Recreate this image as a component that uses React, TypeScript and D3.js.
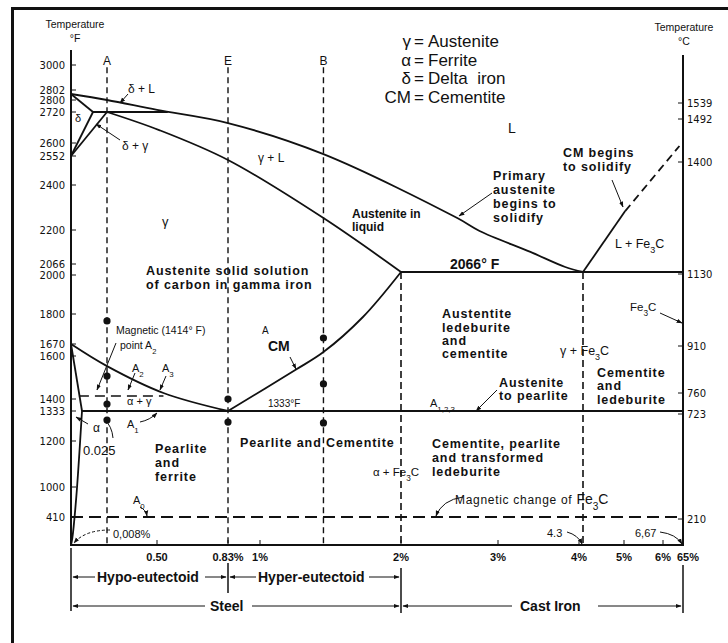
import React from "react";
import * as d3 from "d3";

type Pt = [number, number]; // [% carbon, temperature °F]

// ---- axis ticks ----
const fTicks = [3000, 2802, 2800, 2720, 2600, 2552, 2400, 2200, 2066, 2000, 1800, 1670, 1600, 1400, 1333, 1200, 1000, 410];
const cTicks = [1539, 1492, 1400, 1130, 910, 760, 723, 210];
const carbonTicks = [0.5, 0.83, 1, 2, 3, 4, 5, 6, 6.67];
const carbonLabels = ["0.50", "0.83%", "1%", "2%", "3%", "4%", "5%", "6%", "65%"];

// ---- phase boundaries ----
const liquidus: Pt[] = [[0, 2802], [0.18, 2784], [0.5, 2731], [0.83, 2677], [1.45, 2559], [2.58, 2253], [2.81, 2197], [3.4, 2130], [3.83, 2082], [4.3, 2066]];
const solidus: Pt[] = [[0.18, 2720], [0.51, 2650], [0.83, 2531], [1.45, 2253], [2, 2066]];
const deltaSolidus: Pt[] = [[0, 2802], [0.1, 2720]];
const deltaSolvus: Pt[] = [[0, 2552], [0.1, 2720]];
const gammaDelta: Pt[] = [[0, 2552], [0.18, 2720]];
const peritectic: Pt[] = [[0.1, 2720], [0.55, 2720]];
const a3Line: Pt[] = [[0, 1670], [0.18, 1553], [0.53, 1428], [0.83, 1333]];
const ferriteA3: Pt[] = [[0, 1670], [0.025, 1333]];
const ferriteSolvus: Pt[] = [[0.025, 1333], [0.012, 800], [0.003, 100], [0, 0]];
const acmLine: Pt[] = [[0.83, 1333], [1.25, 1535], [1.45, 1623], [1.73, 1787], [2, 2066]];
const eutectoid: Pt[] = [[0.025, 1333], [6.67, 1333]];
const eutectic: Pt[] = [[2, 2066], [6.67, 2066]];
const cmLiquidus: Pt[] = [[4.3, 2066], [5.03, 2284]];
const cmLiquidusDashed: Pt[] = [[5.03, 2284], [6.55, 2589]];
const magneticA2: Pt[] = [[0.018, 1414], [0.53, 1414]];
const magneticFe3C: Pt[] = [[0, 410], [6.67, 410]];

// alloy verticals A, E, B and the 2% / 4.3% dividers
const alloyNames = ["A", "E", "B"];
const alloyCarbon = [0.18, 0.83, 1.45];
const dividerCarbon = [2, 4.3];

// dots on the alloy lines
const dotCarbon = [0.18, 0.18, 0.18, 0.18, 0.83, 0.83, 1.45, 1.45, 1.45];
const dotTemp = [1770, 1507, 1372, 1293, 1400, 1284, 1696, 1470, 1280];

// legend
const legendSymbols = ["γ", "α", "δ", "CM"];
const legendNames = ["Austenite", "Ferrite", "Delta  iron", "Cementite"];

// ---- scales (the original is drawn schematically, so piecewise) ----
const x = d3.scaleLinear()
  .domain([0, 0.025, 0.1, 0.18, 0.5, 0.83, 1, 2, 3, 4, 4.3, 5, 6, 6.67])
  .range([71, 82, 93, 107, 157, 228, 260, 401, 498, 579, 583, 624, 663, 683]);
const y = d3.scaleLinear()
  .domain([0, 410, 1000, 1200, 1333, 1400, 1600, 1670, 1800, 2000, 2066, 2200, 2400, 2552, 2600, 2720, 2800, 2802, 3000])
  .range([545, 517, 487, 441, 411, 399, 356, 344, 314, 277, 272, 230, 185, 156, 143, 112, 97, 94, 65]);
const yC = d3.scaleLinear()
  .domain([0, 210, 723, 760, 910, 1130, 1400, 1492, 1539])
  .range([545, 519, 414, 393, 346, 274, 162, 119, 103]);

const fNudge: Record<number, number> = { 2802: -4, 2800: 3, 2066: -8, 2000: -2 };

const straight = d3.line<Pt>().x(d => x(d[0])).y(d => y(d[1]));
const smooth = d3.line<Pt>().x(d => x(d[0])).y(d => y(d[1])).curve(d3.curveCatmullRom.alpha(0.5));

const FONT = "'Liberation Sans', Arial, Helvetica, sans-serif";
const NUM_FONT = "'DejaVu Sans', 'Liberation Sans', sans-serif";

const Sub = ({ s }: { s: string }) => (
  <tspan baselineShift="sub" fontSize="0.72em">{s}</tspan>
);

const Fe3C = () => (<>Fe<Sub s="3" />C</>);

export default function App() {
  const phase = { fill: "none", stroke: "#111", strokeWidth: 1.8 };
  const leader = { fill: "none", stroke: "#111", strokeWidth: 1, markerEnd: "url(#arr)" };

  return (
    <div style={{ position: "absolute", left: 0, top: 0 }}>
      <svg width={728} height={643} style={{ display: "block", background: "#fff" }} fontFamily={FONT} fill="#111">
        <defs>
          <marker id="arr" viewBox="0 0 10 10" refX="9" refY="5" markerWidth="6" markerHeight="6" orient="auto-start-reverse" markerUnits="userSpaceOnUse">
            <path d="M0,1.5 L10,5 L0,8.5 z" fill="#111" />
          </marker>
        </defs>

        {/* frame */}
        <line x1={12} y1={8.5} x2={728} y2={8.5} stroke="#111" strokeWidth={3} />
        <line x1={12.5} y1={7} x2={12.5} y2={643} stroke="#111" strokeWidth={3} />

        {/* axes */}
        <line x1={x(0)} y1={50} x2={x(0)} y2={y(0)} stroke="#111" strokeWidth={2} />
        <line x1={x(6.67)} y1={55} x2={x(6.67)} y2={y(0)} stroke="#111" strokeWidth={2} />
        <line x1={x(0) - 1} y1={y(0)} x2={x(6.67) + 1} y2={y(0)} stroke="#111" strokeWidth={2} />

        <text x={75} y={28} fontSize={10.5} textAnchor="middle">Temperature</text>
        <text x={75} y={42} fontSize={10.5} textAnchor="middle">°F</text>
        <text x={684} y={31} fontSize={10.5} textAnchor="middle">Temperature</text>
        <text x={684} y={45} fontSize={10.5} textAnchor="middle">°C</text>

        <g fontFamily={NUM_FONT} fontSize={10}>
          {fTicks.map(t => {
            const ty = y(t) + (fNudge[t] || 0);
            return (
              <g key={"f" + t}>
                <line x1={x(0)} x2={x(0) + 5} y1={ty} y2={ty} stroke="#111" strokeWidth={1} />
                <text x={65} y={ty + 3.5} textAnchor="end">{t}</text>
              </g>
            );
          })}
          {cTicks.map(t => (
            <g key={"c" + t}>
              <line x1={x(6.67) - 5} x2={x(6.67)} y1={yC(t)} y2={yC(t)} stroke="#111" strokeWidth={1} />
              <text x={687} y={yC(t) + 3.5}>{t}</text>
            </g>
          ))}
        </g>
        {carbonTicks.map((c, i) => (
          <g key={"x" + c}>
            <line x1={x(c)} x2={x(c)} y1={y(0)} y2={y(0) - 5} stroke="#111" strokeWidth={1} />
            <text x={x(c) + (i === carbonTicks.length - 1 ? 5 : 0)} y={561} fontSize={11} fontWeight={700} textAnchor="middle">{carbonLabels[i]}</text>
          </g>
        ))}

        {/* alloy verticals */}
        {alloyCarbon.map((c, i) => (
          <g key={alloyNames[i]}>
            <line x1={x(c)} x2={x(c)} y1={y(2985)} y2={y(0)} stroke="#111" strokeWidth={1.4} strokeDasharray="6 4" />
            <text x={x(c)} y={65} fontSize={12} textAnchor="middle">{alloyNames[i]}</text>
          </g>
        ))}
        {dividerCarbon.map(c => (
          <line key={"d" + c} x1={x(c)} x2={x(c)} y1={y(2066)} y2={y(0)} stroke="#111" strokeWidth={1.6} strokeDasharray="7 4" />
        ))}

        {/* dashed magnetic lines */}
        <path d={straight(magneticA2) || ""} fill="none" stroke="#111" strokeWidth={1.6} strokeDasharray="10 6" />
        <path d={straight(magneticFe3C) || ""} fill="none" stroke="#111" strokeWidth={2} strokeDasharray="12 6" />
        <path d={straight(cmLiquidusDashed) || ""} fill="none" stroke="#111" strokeWidth={1.8} strokeDasharray="8 5" />

        {/* phase boundaries */}
        <path d={smooth(liquidus) || ""} {...phase} />
        <path d={smooth(solidus) || ""} {...phase} />
        <path d={straight(deltaSolidus) || ""} {...phase} />
        <path d={straight(deltaSolvus) || ""} {...phase} />
        <path d={straight(gammaDelta) || ""} {...phase} />
        <path d={straight(peritectic) || ""} {...phase} />
        <path d={smooth(a3Line) || ""} {...phase} />
        <path d={straight(ferriteA3) || ""} {...phase} />
        <path d={smooth(ferriteSolvus) || ""} {...phase} />
        <path d={smooth(acmLine) || ""} {...phase} />
        <path d={straight(eutectoid) || ""} {...phase} />
        <path d={straight(eutectic) || ""} {...phase} />
        <path d={straight(cmLiquidus) || ""} {...phase} />

        {dotCarbon.map((c, i) => (
          <circle key={"p" + i} cx={x(c)} cy={y(dotTemp[i])} r={3.6} fill="#111" />
        ))}

        {/* legend */}
        {legendSymbols.map((s, i) => {
          const ly = 47 + i * 18.5;
          return (
            <g key={s} fontSize={17}>
              <text x={411} y={ly} textAnchor="end">{s}</text>
              <text x={419} y={ly} textAnchor="middle">=</text>
              <text x={428} y={ly} style={{ whiteSpace: "pre" }}>{legendNames[i]}</text>
            </g>
          );
        })}

        {/* region labels */}
        <text x={128} y={93} fontSize={12}>δ + L</text>
        <text x={75} y={122} fontSize={11}>δ</text>
        <text x={122} y={150} fontSize={12}>δ + γ</text>
        <text x={512} y={133} fontSize={14} textAnchor="middle">L</text>
        <text x={258} y={162} fontSize={12}>γ + L</text>
        <text x={162} y={226} fontSize={13}>γ</text>
        <g fontWeight={700} fontSize={12}>
          <text x={352} y={218}>Austenite in</text>
          <text x={352} y={231}>liquid</text>
        </g>
        <g fontWeight={700} fontSize={12.5} letterSpacing={0.9}>
          <text x={493} y={180}>Primary</text>
          <text x={493} y={194}>austenite</text>
          <text x={493} y={208}>begins to</text>
          <text x={493} y={222}>solidify</text>
          <text x={563} y={157}>CM begins</text>
          <text x={563} y={171}>to solidify</text>
          <text x={146} y={275}>Austenite solid solution</text>
          <text x={146} y={289}>of carbon in gamma iron</text>
          <text x={442} y={318}>Austentite</text>
          <text x={442} y={332}>ledeburite</text>
          <text x={442} y={345}>and</text>
          <text x={442} y={358}>cementite</text>
          <text x={499} y={387}>Austenite</text>
          <text x={499} y={400}>to pearlite</text>
          <text x={597} y={377}>Cementite</text>
          <text x={597} y={390}>and</text>
          <text x={597} y={404}>ledeburite</text>
          <text x={155} y={453}>Pearlite</text>
          <text x={155} y={467}>and</text>
          <text x={155} y={481}>ferrite</text>
          <text x={240} y={447}>Pearlite and Cementite</text>
          <text x={432} y={448}>Cementite, pearlite</text>
          <text x={432} y={462}>and transformed</text>
          <text x={432} y={476}>ledeburite</text>
        </g>
        <text x={450} y={269} fontSize={14} fontWeight={700}>2066° F</text>
        <text x={615} y={248} fontSize={12.5}>L + <Fe3C /></text>
        <text x={560} y={355} fontSize={12.5}>γ + <Fe3C /></text>
        <text x={630} y={311} fontSize={11.5}><Fe3C /></text>
        <text x={373} y={476} fontSize={11.5}>α + <Fe3C /></text>
        <text x={455} y={504} fontSize={12} letterSpacing={0.7}>Magnetic change of <tspan fontSize={14} letterSpacing={0}><Fe3C /></tspan></text>

        <text x={116} y={334} fontSize={10.5}>Magnetic (1414° F)</text>
        <text x={120} y={349} fontSize={10.5}>point  A<Sub s="2" /></text>
        <text x={262} y={334} fontSize={10}>A</text>
        <text x={268} y={351} fontSize={14} fontWeight={700}>CM</text>
        <text x={132} y={372} fontSize={11}>A<Sub s="2" /></text>
        <text x={162} y={372} fontSize={11}>A<Sub s="3" /></text>
        <text x={127} y={405} fontSize={11}>α + γ</text>
        <text x={268} y={407} fontSize={10}>1333°F</text>
        <text x={430} y={407} fontSize={11}>A<Sub s="1,2,3" /></text>
        <text x={93} y={432} fontSize={12}>α</text>
        <text x={127} y={428} fontSize={11}>A<Sub s="1" /></text>
        <text x={83} y={455} fontSize={13}>0.025</text>
        <text x={133} y={504} fontSize={11}>A<Sub s="0" /></text>
        <text x={113} y={538} fontSize={11}>0,008%</text>
        <text x={547} y={537} fontSize={11}>4.3</text>
        <text x={635} y={537} fontSize={11}>6,67</text>

        {/* leaders */}
        <path d="M128,94 L120,103" {...leader} />
        <path d="M120,140 L96,124" {...leader} />
        <path d="M116,343 L97,390" {...leader} />
        <path d="M135,373 L128,390" {...leader} />
        <path d="M166,376 L160,390" {...leader} />
        <path d="M290,357 L296,369" {...leader} />
        <path d="M492,193 L459,216" {...leader} />
        <path d="M612,180 L623,207" {...leader} />
        <path d="M660,313 L682,323" {...leader} />
        <path d="M497,390 L476,411" {...leader} />
        <path d="M88,424 L76,417" {...leader} />
        <path d="M113,438 Q112,426 104,419" {...leader} />
        <path d="M140,422 Q150,420 157,413" {...leader} />
        <path d="M140,507 Q146,510 147,516" {...leader} />
        <path d="M463,497 Q442,500 436,516" {...leader} />
        <path d="M110,530 Q85,530 74,543" {...leader} strokeDasharray="3 2" />
        <path d="M567,532 Q578,535 582,544" {...leader} />
        <path d="M660,532 Q676,534 682,544" {...leader} />

        {/* composition brackets */}
        <g stroke="#111" strokeWidth={1.5}>
          <line x1={x(0)} x2={x(0)} y1={548} y2={611} />
          <line x1={x(0.83)} x2={x(0.83)} y1={563} y2={593} />
          <line x1={x(2)} x2={x(2)} y1={568} y2={613} />
          <line x1={x(6.67)} x2={x(6.67)} y1={565} y2={613} />
        </g>
        <g stroke="#111" strokeWidth={1} markerStart="url(#arr)">
          <line x1={x(0) + 2} x2={95} y1={577} y2={577} />
          <line x1={x(0.83) - 2} x2={205} y1={577} y2={577} />
          <line x1={x(0.83) + 2} x2={256} y1={577} y2={577} />
          <line x1={x(2) - 2} x2={369} y1={577} y2={577} />
          <line x1={x(0) + 2} x2={205} y1={606} y2={606} />
          <line x1={x(2) - 2} x2={252} y1={606} y2={606} />
          <line x1={x(2) + 2} x2={512} y1={606} y2={606} />
          <line x1={x(6.67) - 2} x2={598} y1={606} y2={606} />
        </g>
        <g fontSize={14} fontWeight={700}>
          <text x={97} y={582}>Hypo-eutectoid</text>
          <text x={258} y={582}>Hyper-eutectoid</text>
          <text x={210} y={611}>Steel</text>
          <text x={520} y={611}>Cast Iron</text>
        </g>
      </svg>
    </div>
  );
}
